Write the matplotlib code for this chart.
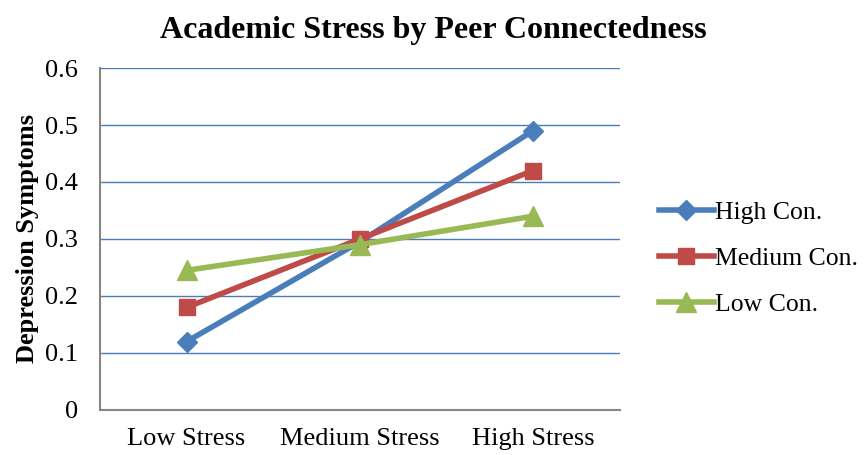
import matplotlib
matplotlib.use("Agg")
import matplotlib.pyplot as plt
import numpy as np

plt.rcParams['font.family'] = ['Liberation Serif', 'DejaVu Serif']

# stress levels on x, depression symptoms per connectedness group
stress_levels = ["Low Stress", "Medium Stress", "High Stress"]
high_con = [0.12, 0.295, 0.49]
medium_con = [0.18, 0.30, 0.42]
low_con = [0.245, 0.29, 0.34]

fig = plt.figure(figsize=(8.66, 4.55), dpi=100)
ax = fig.add_axes([0.1155, 0.099, 0.6, 0.7515])

x = np.arange(len(stress_levels))
ax.plot(x, high_con, color="#4A7EBB", lw=4, marker="D", ms=10, label="High Con.")
ax.plot(x, medium_con, color="#BE4B48", lw=4, marker="s", ms=12, label="Medium Con.")
ax.plot(x, low_con, color="#98B954", lw=4, marker="^", ms=14, label="Low Con.")

ax.set_xlim(-0.5, 2.5)
ax.set_ylim(0, 0.6)
ax.set_yticks([0, 0.1, 0.2, 0.3, 0.4, 0.5, 0.6])
ax.set_yticklabels(["0", "0.1", "0.2", "0.3", "0.4", "0.5", "0.6"])
ax.set_xticks(x)
ax.set_xticklabels(stress_levels)
ax.tick_params(length=0, labelsize=19)
ax.tick_params(axis="x", pad=13)
ax.tick_params(axis="y", pad=16)
ax.yaxis.grid(True, color="#4A7EBB", lw=1)
ax.set_axisbelow(True)
for s in ["top", "right"]:
    ax.spines[s].set_visible(False)
for s in ["left", "bottom"]:
    ax.spines[s].set_color("#868686")
    ax.spines[s].set_linewidth(1.5)

ax.set_ylabel("Depression Symptoms", fontsize=19, fontweight="bold", labelpad=4)
fig.suptitle("Academic Stress by Peer Connectedness", fontsize=23, fontweight="bold",
             y=0.934, va="center")

ax.legend(loc="center left", bbox_to_anchor=(1.075, 0.444), frameon=False, fontsize=18.5,
          handlelength=2.15, handletextpad=0.05, labelspacing=0.9, borderaxespad=0,
          borderpad=0)

fig.savefig("out.png", dpi=100)
